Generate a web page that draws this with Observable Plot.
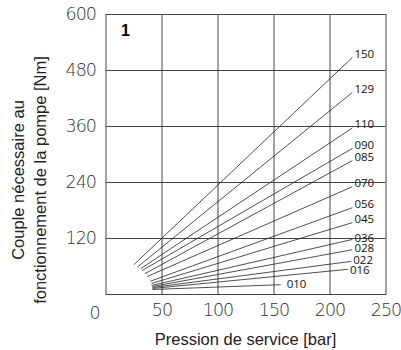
<!DOCTYPE html>
<html>
<head>
<meta charset="utf-8">
<script src="https://cdn.jsdelivr.net/npm/d3@7"></script>
<script src="https://cdn.jsdelivr.net/npm/@observablehq/plot@0.6"></script>
<style>
  html, body { margin: 0; padding: 0; background: #fff; }
</style>
</head>
<body>
<div id="chart"></div>
<script>
const series = ["150","129","110","090","085","070","056","045","036","028","022","016","010"];
const startP = [24.8, 27.9, 30.8, 32.3, 34.6, 36.8, 39.7, 40.6, 40.6, 41.5, 41.5, 41.5, 41.5];
const startT = [63.6, 58.5, 55.1, 51.4, 44.4, 38.6, 28.5, 23.6, 19.3, 17.1, 15.0, 12.9, 10.7];
const endP   = [220, 220, 220, 220, 220, 220, 220, 220, 220, 220, 219, 216, 156];
const endT   = [508, 433, 357, 313, 287, 231, 186, 154, 118, 96, 71, 54, 21];
const xTicks = [50, 100, 150, 200, 250];
const yTicks = [120, 240, 360, 480, 600];

const data = series.map((s, i) => ({s, x1: startP[i], y1: startT[i], x2: endP[i], y2: endT[i]}));
const upper = ["150","129","110","090","085","070","056","045"];
const lower = ["036","028","022"];
const tickFont = "'DejaVu Sans', sans-serif";
const labelFont = "'Open Sans', 'Noto Sans', sans-serif";
const titleFont = "'Liberation Sans', Arial, sans-serif";
const lbl = {x: "x2", y: "y2", text: "s", textAnchor: "start", fontSize: 11.5, fontWeight: 400, fontFamily: labelFont, fill: "#111"};

const chart = Plot.plot({
  width: 401,
  height: 350,
  marginLeft: 105.5,
  marginRight: 15.5,
  marginTop: 14,
  marginBottom: 56,
  style: {fontFamily: tickFont, fontSize: "17.5px", fontWeight: 200, letterSpacing: "-1px", background: "#fff", color: "#333"},
  x: {domain: [0, 250], ticks: xTicks, tickSize: 0, tickPadding: 9, label: null},
  y: {domain: [0, 600], ticks: yTicks, tickSize: 0, tickPadding: 10, label: null},
  marks: [
    Plot.ruleX([50, 100, 150, 200], {stroke: "#444", strokeWidth: 1}),
    Plot.ruleY([120, 240, 360, 480], {stroke: "#444", strokeWidth: 1}),
    Plot.frame({stroke: "#444", strokeWidth: 1}),
    Plot.link(data, {x1: "x1", y1: "y1", x2: "x2", y2: "y2", stroke: "#222", strokeWidth: 0.8}),
    Plot.text(data.filter(d => upper.includes(d.s)), {...lbl, dx: 2, dy: -3.5}),
    Plot.text(data.filter(d => lower.includes(d.s)), {...lbl, dx: 2, dy: -1.5}),
    Plot.text(data.filter(d => d.s === "016"), {...lbl, dx: 2, dy: 1}),
    Plot.text(data.filter(d => d.s === "010"), {...lbl, dx: 6, dy: 0}),
    Plot.text(["1"], {frameAnchor: "top-left", dx: 15, dy: 10, text: d => d, fontSize: 16, fontWeight: "bold", fontFamily: titleFont, fill: "#000"}),
    Plot.text([0], {x: d => d, y: 0, text: d => "0", dx: -11, dy: 19, fontSize: 17.5, fontWeight: 200, fontFamily: tickFont, fill: "#333"})
  ]
});

const svg = d3.select(chart);
svg.selectAll("text").filter(function() { return this.closest("[aria-label='text']"); }).style("letter-spacing", "0px");
svg.append("text")
  .attr("x", 245.5).attr("y", 345)
  .attr("text-anchor", "middle")
  .style("font-family", titleFont)
  .style("font-size", "16.5px").style("font-weight", 400).style("letter-spacing", "0px")
  .attr("fill", "#222")
  .text("Pression de service [bar]");
const yl = svg.append("text")
  .attr("transform", "translate(0,180) rotate(-90)")
  .attr("text-anchor", "middle")
  .style("font-family", titleFont)
  .style("font-size", "16.5px").style("font-weight", 400).style("letter-spacing", "0px")
  .attr("fill", "#222");
yl.append("tspan").attr("x", 0).attr("y", 24).text("Couple nécessaire au");
yl.append("tspan").attr("x", 0).attr("y", 46).text("fonctionnement de la pompe [Nm]");

document.getElementById("chart").appendChild(chart);
</script>
</body>
</html>
